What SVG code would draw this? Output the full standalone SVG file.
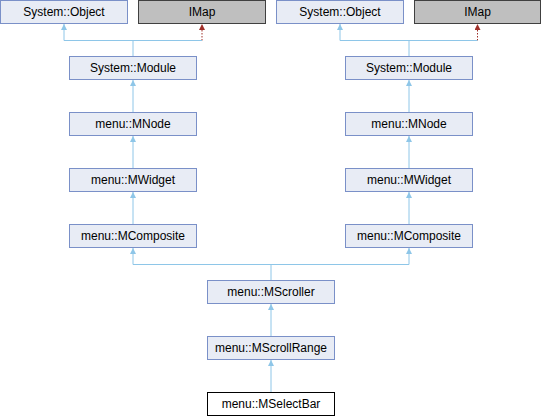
<svg xmlns="http://www.w3.org/2000/svg" width="542" height="416" viewBox="0 0 542 416">
  <style>
    .node rect { fill: #e8ecf5; stroke: #7a90c8; stroke-width: 1; }
    .node.ext rect { fill: #bfbfbf; stroke: #404040; }
    .node.main rect { fill: #ffffff; stroke: #000000; }
    .node text { font-family: "Liberation Sans", Arial, sans-serif; font-size: 12px; fill: #000000; text-anchor: middle; }
    .edge { fill: none; stroke: #8ec6e8; stroke-width: 1; }
    .edge-use { fill: none; stroke: #a0302a; stroke-width: 1; stroke-dasharray: 1.5 1.5; }
  </style>
  <defs>
    <!-- triangle head, tip on the path end -->
    <marker id="arrow" viewBox="0 0 6 6" refX="6" refY="3" markerWidth="6" markerHeight="6" orient="auto-start-reverse" markerUnits="userSpaceOnUse">
      <path d="M0,0 L6,3 L0,6 Z" fill="#8ec6e8"/>
    </marker>
    <marker id="arrowUse" viewBox="0 0 6 6" refX="6" refY="3" markerWidth="6" markerHeight="6" orient="auto-start-reverse" markerUnits="userSpaceOnUse">
      <path d="M0,0 L6,3 L0,6 Z" fill="#a0302a"/>
    </marker>
  </defs>

  <!-- connectors -->
  <g id="connectors">
    <!-- left branch -->
    <path class="edge-use" d="M202,40.5 V29"/>
    <path class="edge-use" d="M202,30 V24" stroke-dasharray="none" marker-end="url(#arrowUse)"/>
    <path class="edge" d="M64,24 V40.5 H202" marker-start="url(#arrow)"/>
    <path class="edge" d="M133,56 V40.5"/>
    <path class="edge" d="M133,112 V80" marker-end="url(#arrow)"/>
    <path class="edge" d="M133,168 V136" marker-end="url(#arrow)"/>
    <path class="edge" d="M133,224 V192" marker-end="url(#arrow)"/>
    <!-- right branch -->
    <path class="edge-use" d="M477.5,40.5 V29"/>
    <path class="edge-use" d="M477.5,30 V24" stroke-dasharray="none" marker-end="url(#arrowUse)"/>
    <path class="edge" d="M340,24 V40.5 H477.5" marker-start="url(#arrow)"/>
    <path class="edge" d="M409,56 V40.5"/>
    <path class="edge" d="M409,112 V80" marker-end="url(#arrow)"/>
    <path class="edge" d="M409,168 V136" marker-end="url(#arrow)"/>
    <path class="edge" d="M409,224 V192" marker-end="url(#arrow)"/>
    <!-- merge into MScroller -->
    <path class="edge" d="M133,248 V264.5 H409 V248" marker-start="url(#arrow)" marker-end="url(#arrow)"/>
    <path class="edge" d="M271,280 V264.5"/>
    <path class="edge" d="M271,336 V304" marker-end="url(#arrow)"/>
    <path class="edge" d="M271,392 V360" marker-end="url(#arrow)"/>
  </g>

  <!-- left hierarchy -->
  <g id="objL" class="node"><rect x="0.5" y="0.5" width="127" height="23"/><text x="64" y="16">System::Object</text></g>
  <g id="imapL" class="node ext"><rect x="138.5" y="0.5" width="127" height="23"/><text x="202" y="16">IMap</text></g>
  <g id="moduleL" class="node"><rect x="69.5" y="56.5" width="127" height="23"/><text x="133" y="72">System::Module</text></g>
  <g id="mnodeL" class="node"><rect x="69.5" y="112.5" width="127" height="23"/><text x="133" y="128">menu::MNode</text></g>
  <g id="mwidgetL" class="node"><rect x="69.5" y="168.5" width="127" height="23"/><text x="133" y="184">menu::MWidget</text></g>
  <g id="mcompositeL" class="node"><rect x="69.5" y="224.5" width="127" height="23"/><text x="133" y="240">menu::MComposite</text></g>

  <!-- right hierarchy -->
  <g id="objR" class="node"><rect x="276.5" y="0.5" width="127" height="23"/><text x="340" y="16">System::Object</text></g>
  <g id="imapR" class="node ext"><rect x="414.5" y="0.5" width="126" height="23"/><text x="477.5" y="16">IMap</text></g>
  <g id="moduleR" class="node"><rect x="345.5" y="56.5" width="127" height="23"/><text x="409" y="72">System::Module</text></g>
  <g id="mnodeR" class="node"><rect x="345.5" y="112.5" width="127" height="23"/><text x="409" y="128">menu::MNode</text></g>
  <g id="mwidgetR" class="node"><rect x="345.5" y="168.5" width="127" height="23"/><text x="409" y="184">menu::MWidget</text></g>
  <g id="mcompositeR" class="node"><rect x="345.5" y="224.5" width="127" height="23"/><text x="409" y="240">menu::MComposite</text></g>

  <!-- shared descendants -->
  <g id="mscroller" class="node"><rect x="207.5" y="280.5" width="127" height="23"/><text x="271" y="296">menu::MScroller</text></g>
  <g id="mscrollrange" class="node"><rect x="207.5" y="336.5" width="127" height="23"/><text x="271" y="352">menu::MScrollRange</text></g>
  <g id="mselectbar" class="node main"><rect x="207.5" y="392.5" width="127" height="23"/><text x="271" y="408">menu::MSelectBar</text></g>
</svg>
